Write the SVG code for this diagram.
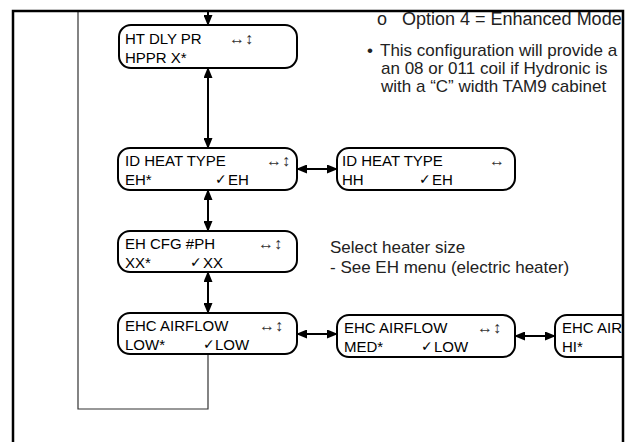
<svg xmlns="http://www.w3.org/2000/svg" width="636" height="442" viewBox="0 0 636 442">
<style>
.box{fill:#fff;stroke:#000;stroke-width:2}
.t{font-family:"Liberation Sans",Arial,sans-serif;font-size:15px;fill:#000}
.s{font-family:"Liberation Sans","DejaVu Sans",sans-serif;font-size:16px;fill:#333}
.ck{font-family:"DejaVu Sans",sans-serif;font-size:14px;fill:#000}
.body{font-family:"Liberation Sans",Arial,sans-serif;font-size:17px;fill:#222}
.frame{fill:none;stroke:#000;stroke-width:2.5}
.thin{fill:none;stroke:#333;stroke-width:1.2}
.arr{fill:none;stroke:#000;stroke-width:2;marker-end:url(#ah)}
.darr{fill:none;stroke:#000;stroke-width:2;marker-start:url(#ah);marker-end:url(#ah)}
</style>
<defs>
<marker id="ah" markerUnits="userSpaceOnUse" markerWidth="11" markerHeight="9" refX="10" refY="4.5" orient="auto-start-reverse" viewBox="0 0 11 9">
<path d="M0,0 L11,4.5 L0,9 z" fill="#000"/>
</marker>
<clipPath id="fr"><rect x="0" y="0" width="622" height="442"/></clipPath>
</defs>
<rect width="636" height="442" fill="#fff"/>

<g id="notes" clip-path="url(#fr)">
<text class="body" x="377" y="25" style="font-size:18px">o</text>
<text class="body" x="402" y="25" style="font-size:18px">Option 4 = Enhanced Mode</text>
<text class="body" x="367" y="56">•</text>
<text class="body" x="380" y="56">This configuration will provide a</text>
<text class="body" x="381" y="74">an 08 or 011 coil if Hydronic is</text>
<text class="body" x="381" y="92">with a “C” width TAM9 cabinet</text>
<text class="body" x="330" y="253">Select heater size</text>
<text class="body" x="330" y="273">- See EH menu (electric heater)</text>
</g>

<g id="connectors">
<path class="thin" d="M78,11 V409 H208 V354"/>
<path class="arr" d="M208,12 V25"/>
<path class="darr" d="M208,68 V148"/>
<path class="darr" d="M208,190 V231"/>
<path class="darr" d="M208,272 V313"/>
<path class="darr" d="M297,169 H337"/>
<path class="darr" d="M297,334 H337"/>
<path class="darr" d="M515,336 H555"/>
</g>

<g id="n1">
<rect class="box" x="119" y="25" width="178" height="43" rx="12"/>
<text class="t" x="125" y="44">HT DLY PR</text>
<text class="s" x="229" y="44">↔↕</text>
<text class="t" x="125" y="63">HPPR X*</text>
</g>
<g id="n2">
<rect class="box" x="118" y="148" width="179" height="42" rx="12"/>
<text class="t" x="125" y="166">ID HEAT TYPE</text>
<text class="s" x="266" y="166">↔↕</text>
<text class="t" x="125" y="185">EH*</text>
<text class="ck" x="215" y="184">✓</text>
<text class="t" x="228" y="185">EH</text>
</g>
<g id="n3">
<rect class="box" x="337" y="148" width="178" height="42" rx="12"/>
<text class="t" x="342" y="166">ID HEAT TYPE</text>
<text class="s" x="489" y="166">↔</text>
<text class="t" x="342" y="185">HH</text>
<text class="ck" x="419" y="184">✓</text>
<text class="t" x="432" y="185">EH</text>
</g>
<g id="n4">
<rect class="box" x="118" y="231" width="179" height="41" rx="12"/>
<text class="t" x="125" y="249">EH CFG #PH</text>
<text class="s" x="258" y="249">↔↕</text>
<text class="t" x="125" y="268">XX*</text>
<text class="ck" x="190" y="267">✓</text>
<text class="t" x="203" y="268">XX</text>
</g>
<g id="n5">
<rect class="box" x="118" y="313" width="179" height="41" rx="12"/>
<text class="t" x="125" y="331">EHC AIRFLOW</text>
<text class="s" x="259" y="331">↔↕</text>
<text class="t" x="125" y="350">LOW*</text>
<text class="ck" x="203" y="349">✓</text>
<text class="t" x="215" y="350">LOW</text>
</g>
<g id="n6">
<rect class="box" x="337" y="315" width="178" height="42" rx="12"/>
<text class="t" x="344" y="333">EHC AIRFLOW</text>
<text class="s" x="477" y="333">↔↕</text>
<text class="t" x="344" y="352">MED*</text>
<text class="ck" x="421" y="351">✓</text>
<text class="t" x="434" y="352">LOW</text>
</g>
<g id="n7" clip-path="url(#fr)">
<path class="box" d="M640,315 H567 A12,12 0 0 0 555,327 V345 A12,12 0 0 0 567,357 H640"/>
<text class="t" x="562" y="333">EHC AIR</text>
<text class="t" x="562" y="352">HI*</text>
</g>

<g id="frame">
<path class="frame" d="M13,442 V11 H623 V442"/>
</g>
</svg>
